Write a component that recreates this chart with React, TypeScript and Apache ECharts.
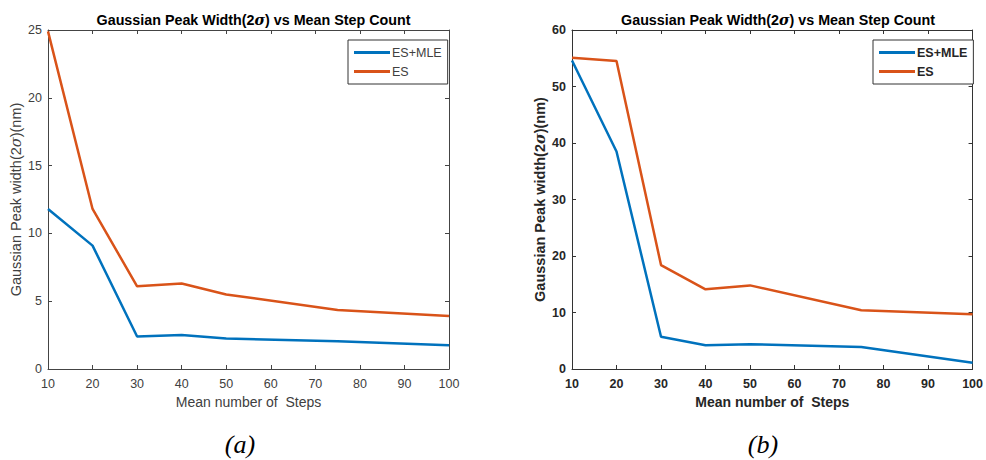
import React, { useEffect, useRef } from "react";
import * as echarts from "echarts";

const steps = [10, 20, 30, 40, 50, 75, 100];
const esMleA = [11.8, 9.1, 2.4, 2.5, 2.25, 2.05, 1.75];
const esA = [24.9, 11.8, 6.1, 6.3, 5.5, 4.35, 3.9];
const esMleB = [54.6, 38.5, 5.7, 4.2, 4.4, 3.9, 1.1];
const esB = [55.1, 54.5, 18.4, 14.1, 14.8, 10.4, 9.7];
const seriesNames = ["ES+MLE", "ES"];
const titleText = "Gaussian Peak Width(2σ) vs Mean Step Count";
const xName = "Mean number of  Steps";
const captions = ["(a)", "(b)"];

const BLUE = "#0072BD";
const ORANGE = "#D95319";
const FONT = "'Liberation Sans', Arial, sans-serif";

export default function App() {
  const ref = useRef<HTMLDivElement>(null);
  useEffect(() => {
    if (!ref.current) return;
    const chart = echarts.init(ref.current, null, { renderer: "svg" });
    const grids = [
      { left: 48, top: 30, width: 401, height: 339, bold: false, ymax: 25, yint: 5, color: "#404040", axisColor: "#444" },
      { left: 572, top: 30, width: 402, height: 339, bold: true, ymax: 60, yint: 10, color: "#262626", axisColor: "#333" },
    ];
    const data = [
      [esMleA, esA],
      [esMleB, esB],
    ];
    const xAxes: any[] = [];
    const yAxes: any[] = [];
    const series: any[] = [];
    const legends: any[] = [];
    const titles: any[] = [];
    grids.forEach((g, i) => {
      const fw = g.bold ? "bold" : "normal";
      const lineStyle = { color: g.axisColor, width: 1 };
      xAxes.push({
        type: "value", gridIndex: i, min: 10, max: 100, interval: 10, position: "bottom",
        axisLine: { show: true, onZero: false, lineStyle },
        axisTick: { show: true, inside: true, length: 4, lineStyle },
        axisLabel: { margin: 8, fontSize: 12.5, color: g.color, fontWeight: fw, fontFamily: FONT },
        splitLine: { show: false },
        name: xName, nameLocation: "middle", nameGap: 26,
        nameTextStyle: { fontSize: 14, color: g.color, fontWeight: fw, fontFamily: FONT },
      });
      xAxes.push({
        type: "value", gridIndex: i, min: 10, max: 100, interval: 10, position: "top",
        axisLine: { show: true, onZero: false, lineStyle },
        axisTick: { show: true, inside: true, length: 4, lineStyle },
        axisLabel: { show: false }, splitLine: { show: false },
      });
      yAxes.push({
        type: "value", gridIndex: i, min: 0, max: g.ymax, interval: g.yint, position: "left",
        axisLine: { show: true, onZero: false, lineStyle },
        axisTick: { show: true, inside: true, length: 4, lineStyle },
        axisLabel: { margin: 6, fontSize: 12.5, color: g.color, fontWeight: fw, fontFamily: FONT },
        splitLine: { show: false },
        name: "{n|Gaussian Peak width(2}{s|σ}{n|)(nm)}", nameLocation: "middle", nameGap: 25,
        nameTextStyle: {
          rich: {
            n: { fontSize: 14.5, color: g.color, fontWeight: fw, fontFamily: FONT },
            s: { fontSize: 14.5, color: g.color, fontWeight: fw, fontStyle: "italic", fontFamily: "'DejaVu Serif', serif" },
          },
        },
      });
      yAxes.push({
        type: "value", gridIndex: i, min: 0, max: g.ymax, interval: g.yint, position: "right",
        axisLine: { show: true, onZero: false, lineStyle },
        axisTick: { show: true, inside: true, length: 4, lineStyle },
        axisLabel: { show: false }, splitLine: { show: false },
      });
      data[i].forEach((vals, k) => {
        series.push({
          type: "line", name: seriesNames[k], xAxisIndex: i * 2, yAxisIndex: i * 2,
          data: steps.map((s, j) => [s, vals[j]]),
          symbol: "none", lineStyle: { width: 2.5, color: k === 0 ? BLUE : ORANGE },
          itemStyle: { color: k === 0 ? BLUE : ORANGE },
        });
      });
      legends.push({
        data: seriesNames, orient: "vertical",
        left: g.left + g.width - 101, top: 40, width: 91,
        icon: "rect", itemWidth: 36, itemHeight: 3, itemGap: 6,
        padding: [6, 6, 6, 6],
        borderColor: "#333", borderWidth: 1, backgroundColor: "#fff",
        selectedMode: false,
        textStyle: { fontSize: 12.5, color: g.color, fontWeight: fw, fontFamily: FONT, padding: [0, 0, 0, -3] },
      });
      titles.push({
        text: "{n|Gaussian Peak Width(2}{s|σ}{n|) vs Mean Step Count}",
        left: g.left + g.width / 2, top: 8, textAlign: "center",
        textStyle: {
          rich: {
            n: { fontSize: 14.3, fontWeight: "bold", color: "#000", fontFamily: FONT },
            s: { fontSize: 14.3, fontStyle: "italic", color: "#000", fontFamily: "'DejaVu Serif', serif" },
          },
        },
      });
    });
    chart.setOption({
      animation: false,
      backgroundColor: "#fff",
      title: titles,
      legend: legends,
      grid: grids.map((g) => ({ left: g.left, top: g.top, width: g.width, height: g.height })),
      xAxis: xAxes,
      yAxis: yAxes,
      series,
      graphic: captions.map((c, i) => ({
        type: "text",
        x: i === 0 ? 240 : 763, y: 444,
        style: {
          text: c, fontSize: 26, fontStyle: "italic",
          fontFamily: "'Liberation Serif', 'Times New Roman', serif",
          fill: "#000", align: "center", verticalAlign: "middle",
        },
      })),
    });
    return () => chart.dispose();
  }, []);
  return (
    <div
      ref={ref}
      style={{ position: "fixed", left: 0, top: 0, width: 986, height: 460 }}
      title={titleText}
    />
  );
}
